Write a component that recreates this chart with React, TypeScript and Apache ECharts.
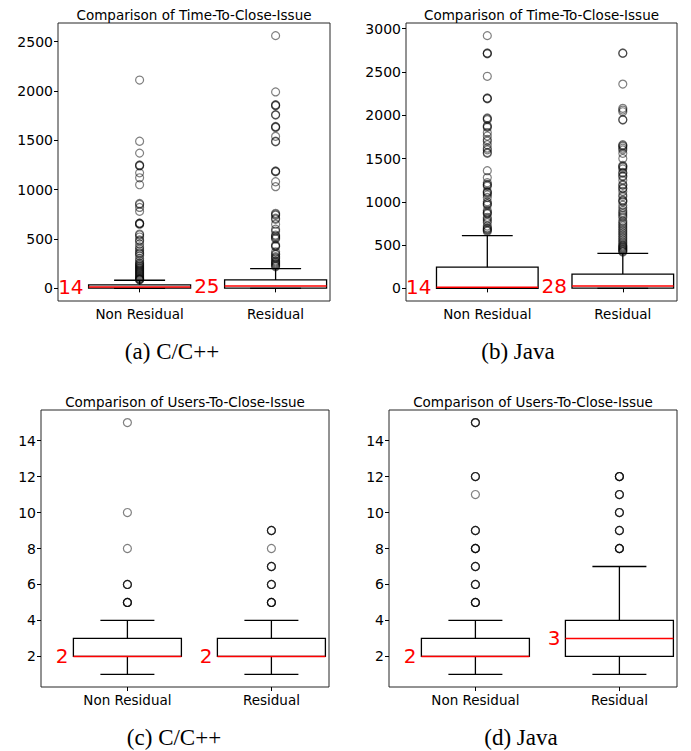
import React, { useEffect, useRef } from "react";
import * as echarts from "echarts";

// ---------- data ----------
const categories = ["Non Residual", "Residual"];
const positions = [1, 2];
const xRange = [0.4, 2.4];

// whisker-low, Q1, median, Q3, whisker-high
const aBoxNR = [0, 2, 14, 35, 82];
const aBoxR = [0, 2, 25, 85, 200];
const aOutNR = [2110, 1490, 1370, 1250, 1245, 1240, 1170, 1120, 1050, 860, 850, 820, 780, 660, 660, 655, 650, 550, 540, 520, 490, 480, 450, 420, 400, 380, 360, 350, 330, 300, 280, 260, 250, 240, 230, 220, 210, 200, 190, 180, 170, 160, 150, 140, 130, 120, 110, 100, 95, 90, 85];
const aOutR = [2560, 1990, 1860, 1855, 1850, 1760, 1755, 1640, 1635, 1630, 1540, 1490, 1485, 1190, 1185, 1180, 1080, 1030, 760, 750, 740, 710, 700, 650, 600, 580, 540, 530, 520, 510, 500, 440, 430, 425, 370, 350, 340, 320, 310, 300, 280, 270, 260, 250, 240, 230, 220];
const aTicks = [0, 500, 1000, 1500, 2000, 2500];

const bBoxNR = [0, 1, 14, 245, 610];
const bBoxR = [0, 2, 28, 165, 405];
const bOutNR = [2920, 2720, 2715, 2710, 2450, 2200, 2195, 2190, 1970, 1960, 1950, 1880, 1870, 1860, 1800, 1760, 1720, 1700, 1660, 1620, 1600, 1570, 1560, 1360, 1280, 1220, 1200, 1195, 1180, 1120, 1110, 1100, 1080, 1050, 1000, 980, 975, 960, 900, 880, 870, 860, 820, 800, 780, 760, 720, 700, 690, 680, 670, 660];
const bOutR = [2720, 2715, 2360, 2080, 2060, 2040, 1950, 1945, 1660, 1650, 1640, 1620, 1600, 1560, 1500, 1420, 1410, 1400, 1380, 1340, 1330, 1300, 1290, 1250, 1200, 1190, 1160, 1150, 1120, 1080, 1060, 1020, 1010, 1000, 960, 930, 900, 880, 860, 840, 820, 780, 760, 740, 720, 700, 680, 660, 640, 620, 600, 580, 560, 540, 520, 500, 490, 480, 470, 460, 450, 440, 430, 420];
const bTicks = [0, 500, 1000, 1500, 2000, 2500, 3000];

const cBoxNR = [1, 2, 2, 3, 4];
const cBoxR = [1, 2, 2, 3, 4];
const cOutNR = [15, 10, 8, 6, 6, 6, 5, 5, 5, 5];
const cOutR = [9, 9, 9, 8, 7, 7, 7, 6, 6, 6, 5, 5, 5, 5];
const cTicks = [2, 4, 6, 8, 10, 12, 14];

const dBoxNR = [1, 2, 2, 3, 4];
const dBoxR = [1, 2, 3, 4, 7];
const dOutNR = [15, 15, 15, 12, 12, 12, 11, 9, 9, 9, 8, 8, 8, 8, 7, 7, 7, 6, 6, 6, 5, 5, 5, 5];
const dOutR = [12, 12, 12, 12, 11, 11, 11, 10, 10, 10, 9, 9, 9, 8, 8, 8, 8];
const dTicks = [2, 4, 6, 8, 10, 12, 14];

const titleTime = "Comparison of Time-To-Close-Issue";
const titleUsers = "Comparison of Users-To-Close-Issue";
const captions = ["(a) C/C++", "(b) Java", "(c) C/C++", "(d) Java"];

// ---------- layout ----------
const SANS = "DejaVu Sans";
const SERIF = "Liberation Serif";

const panels = [
  { box: [aBoxNR, aBoxR], out: [aOutNR, aOutR], ticks: aTicks, title: titleTime, grid: { left: 58, top: 23, width: 272, height: 278 }, cap: { x: 172, y: 351 } },
  { box: [bBoxNR, bBoxR], out: [bOutNR, bOutR], ticks: bTicks, title: titleTime, grid: { left: 406, top: 23, width: 271, height: 278 }, cap: { x: 518, y: 351 } },
  { box: [cBoxNR, cBoxR], out: [cOutNR, cOutR], ticks: cTicks, title: titleUsers, grid: { left: 41, top: 410, width: 288, height: 277 }, cap: { x: 174, y: 737 } },
  { box: [dBoxNR, dBoxR], out: [dOutNR, dOutR], ticks: dTicks, title: titleUsers, grid: { left: 389, top: 410, width: 288, height: 277 }, cap: { x: 521, y: 737 } },
];

function renderBox(params: any, api: any) {
  const x = api.value(0);
  const pLo = api.coord([x, api.value(1)]);
  const pQ1 = api.coord([x, api.value(2)]);
  const pMed = api.coord([x, api.value(3)]);
  const pQ3 = api.coord([x, api.value(4)]);
  const pHi = api.coord([x, api.value(5)]);
  const bw = api.size([0.75, 0])[0];
  const half = bw / 2;
  const capHalf = bw / 4;
  const cx = pLo[0];
  const st = { stroke: "#000", lineWidth: 1.3, fill: "none" };
  return {
    type: "group",
    children: [
      { type: "line", shape: { x1: cx, y1: pQ3[1], x2: cx, y2: pHi[1] }, style: st },
      { type: "line", shape: { x1: cx, y1: pQ1[1], x2: cx, y2: pLo[1] }, style: st },
      { type: "line", shape: { x1: cx - capHalf, y1: pHi[1], x2: cx + capHalf, y2: pHi[1] }, style: st },
      { type: "line", shape: { x1: cx - capHalf, y1: pLo[1], x2: cx + capHalf, y2: pLo[1] }, style: st },
      { type: "rect", shape: { x: cx - half, y: pQ3[1], width: bw, height: pQ1[1] - pQ3[1] }, style: st },
      { type: "line", shape: { x1: cx - half, y1: pMed[1], x2: cx + half, y2: pMed[1] }, style: { stroke: "#ff0000", lineWidth: 1.5 } },
      {
        type: "text",
        x: cx - half - 5,
        y: pMed[1],
        style: { text: String(api.value(3)), fill: "#ff0000", fontSize: 20, fontFamily: SANS, align: "right", verticalAlign: "middle" },
      },
    ],
  };
}

function buildOption() {
  const grid: any[] = [];
  const xAxis: any[] = [];
  const yAxis: any[] = [];
  const series: any[] = [];
  const graphic: any[] = [];

  panels.forEach((p, i) => {
    grid.push({ ...p.grid, show: true, borderColor: "#262626", borderWidth: 1, backgroundColor: "transparent" });
    const all = [...p.box[0], ...p.box[1], ...p.out[0], ...p.out[1]];
    const lo = Math.min(...all);
    const hi = Math.max(...all);
    const pad = (hi - lo) * 0.05;
    xAxis.push({
      type: "value",
      gridIndex: i,
      min: xRange[0],
      max: xRange[1],
      axisLine: { show: false },
      axisTick: { show: true, length: 4, lineStyle: { color: "#000" }, customValues: positions },
      axisLabel: {
        color: "#000",
        fontSize: 13.5,
        fontFamily: SANS,
        margin: 6,
        customValues: positions,
        formatter: (v: number) => categories[positions.indexOf(Math.round(v))] ?? "",
      },
      splitLine: { show: false },
    });
    yAxis.push({
      type: "value",
      gridIndex: i,
      min: lo - pad,
      max: hi + pad,
      axisLine: { show: false },
      splitLine: { show: false },
      axisTick: { show: true, length: 4, lineStyle: { color: "#000" }, customValues: p.ticks },
      axisLabel: { color: "#000", fontSize: 14, fontFamily: SANS, margin: 5, customValues: p.ticks, formatter: (v: number) => String(v) },
    });
    p.out.forEach((arr, k) => {
      series.push({
        type: "scatter",
        xAxisIndex: i,
        yAxisIndex: i,
        data: arr.map((v) => [positions[k], v]),
        symbol: "circle",
        symbolSize: 8,
        itemStyle: { color: "rgba(0,0,0,0)", borderColor: "rgba(0,0,0,0.5)", borderWidth: 1.2, opacity: 1 },
        silent: true,
        z: 2,
      });
    });
    series.push({
      type: "custom",
      xAxisIndex: i,
      yAxisIndex: i,
      data: p.box.map((b, k) => [positions[k], ...b]),
      encode: { x: 0, y: [1, 2, 3, 4, 5] },
      renderItem: renderBox,
      clip: false,
      silent: true,
      z: 3,
    });
    graphic.push({
      type: "text",
      x: p.grid.left + p.grid.width / 2,
      y: p.grid.top - 8,
      style: { text: p.title, fill: "#000", fontSize: 13.5, fontFamily: SANS, align: "center", verticalAlign: "middle" },
    });
    graphic.push({
      type: "text",
      x: p.cap.x,
      y: p.cap.y,
      style: { text: captions[i], fill: "#000", fontSize: 23, fontFamily: SERIF, align: "center", verticalAlign: "middle" },
    });
  });

  return { animation: false, backgroundColor: "#fff", grid, xAxis, yAxis, series, graphic };
}

export default function App() {
  const ref = useRef<HTMLDivElement>(null);
  useEffect(() => {
    if (!ref.current) return;
    const chart = echarts.init(ref.current, null, { renderer: "svg" });
    chart.setOption(buildOption() as any);
    return () => chart.dispose();
  }, []);
  return <div ref={ref} style={{ position: "fixed", left: 0, top: 0, width: 691, height: 751, background: "#fff" }} />;
}
